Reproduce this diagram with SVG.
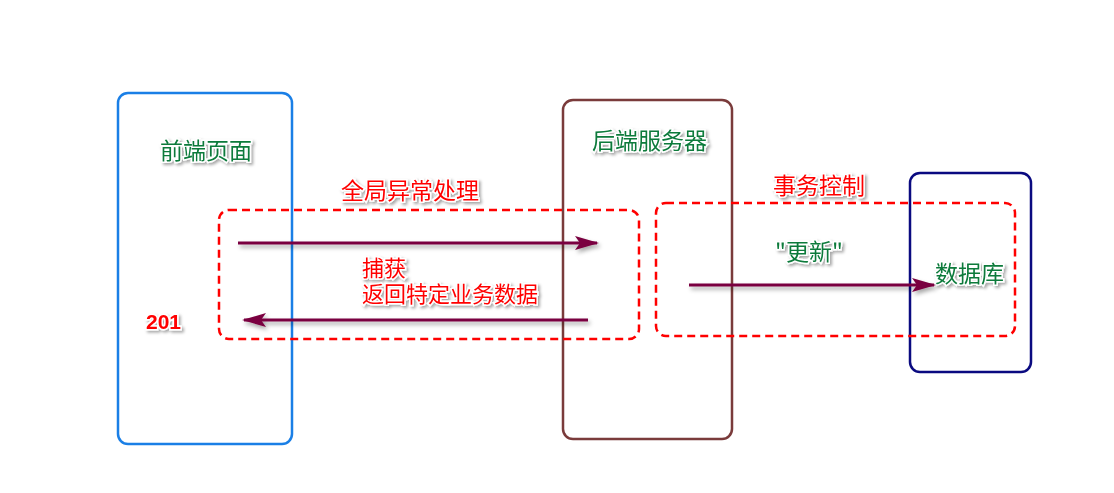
<svg xmlns="http://www.w3.org/2000/svg" width="1114" height="493" viewBox="0 0 1114 493">
<defs>
<filter id="sh" x="-20%" y="-50%" width="140%" height="200%"><feDropShadow dx="2" dy="2" stdDeviation="1.5" flood-color="#000" flood-opacity="0.35"/></filter>
<filter id="lsh" filterUnits="userSpaceOnUse" x="0" y="0" width="1114" height="493"><feDropShadow dx="2" dy="3" stdDeviation="2" flood-color="#000" flood-opacity="0.35"/></filter>
<marker id="ah" viewBox="0 0 24 14" markerWidth="24" markerHeight="14" refX="22" refY="7" orient="auto" markerUnits="userSpaceOnUse"><path d="M0,0 L24,7 L0,14 L5,7 Z" fill="#7a0040"/></marker>
</defs>
<style>
text{font-family:"Noto Sans CJK SC","Liberation Sans",sans-serif;font-size:23px;stroke:#fff;stroke-width:3px;paint-order:stroke;filter:url(#sh)}
.g{fill:#0a7a3a}.r{fill:#f00}
.box{fill:none;stroke-width:2.5}
.dash{fill:none;stroke:#f00;stroke-width:2.5;stroke-dasharray:8 5}
.ar{stroke:#7a0040;stroke-width:3;fill:none;marker-end:url(#ah);filter:url(#lsh)}
</style>
<rect width="1114" height="493" fill="#fff"/>
<g id="frontend"><rect class="box" x="118" y="93" width="174" height="351" rx="10" stroke="#1a7fe6"/><text class="g" x="160" y="159">前端页面</text><text class="r" x="146" y="329" style="font-family:'Liberation Sans',sans-serif;font-weight:bold;font-size:21px">201</text></g>
<g id="backend"><rect class="box" x="563" y="100" width="169" height="339" rx="10" stroke="#7a3b3b"/><text class="g" x="592" y="149">后端服务器</text></g>
<g id="db"><rect class="box" x="910" y="173" width="121" height="199" rx="10" stroke="#0a0a80"/><text class="g" x="935" y="282">数据库</text></g>
<g id="exc"><rect class="dash" x="219" y="210" width="420" height="129" rx="10"/><text class="r" x="341" y="199">全局异常处理</text></g>
<g id="tx"><rect class="dash" x="656" y="203" width="359" height="133" rx="10"/><text class="r" x="773" y="194">事务控制</text></g>
<g id="connectors">
<line class="ar" x1="238" y1="243" x2="597" y2="243"/>
<line class="ar" x1="588" y1="320" x2="244" y2="320"/>
<line class="ar" x1="689" y1="285" x2="934" y2="285"/>
<text class="g" x="775" y="260">"更新"</text>
<text class="r" x="362" y="276" style="font-size:22px">捕获</text>
<text class="r" x="362" y="302" style="font-size:22px">返回特定业务数据</text>
</g>
</svg>
